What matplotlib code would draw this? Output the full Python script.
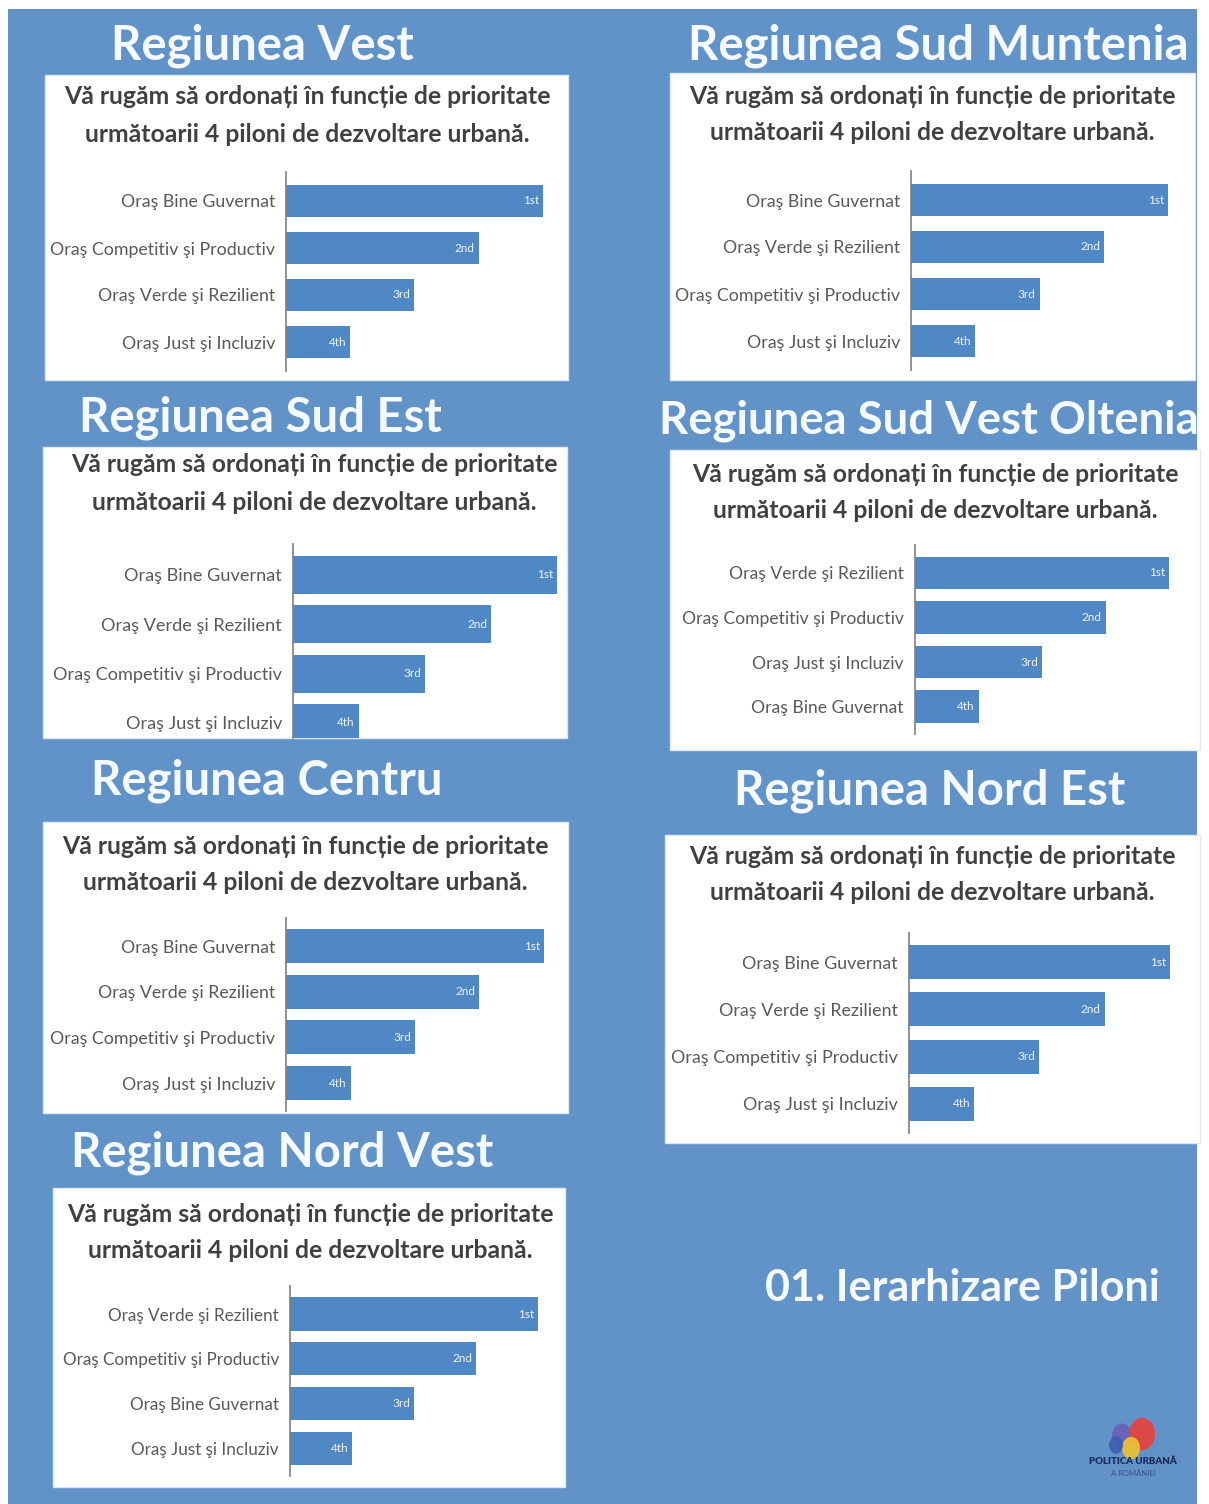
import matplotlib.pyplot as plt
from matplotlib.patches import Rectangle, Circle

plt.rcParams['font.family'] = ['Lato', 'DejaVu Sans']

W, H = 1209, 1504

# Date pe regiuni: ordinea pilonilor (de sus in jos) si scorul de prioritate
titles = ['Regiunea Vest', 'Regiunea Sud Muntenia', 'Regiunea Sud Est',
          'Regiunea Sud Vest Oltenia', 'Regiunea Centru', 'Regiunea Nord Est',
          'Regiunea Nord Vest']
order_vest = ['Oraş Bine Guvernat', 'Oraş Competitiv şi Productiv',
              'Oraş Verde şi Rezilient', 'Oraş Just şi Incluziv']
order_sud_muntenia = ['Oraş Bine Guvernat', 'Oraş Verde şi Rezilient',
                      'Oraş Competitiv şi Productiv', 'Oraş Just şi Incluziv']
order_sud_est = ['Oraş Bine Guvernat', 'Oraş Verde şi Rezilient',
                 'Oraş Competitiv şi Productiv', 'Oraş Just şi Incluziv']
order_oltenia = ['Oraş Verde şi Rezilient', 'Oraş Competitiv şi Productiv',
                 'Oraş Just şi Incluziv', 'Oraş Bine Guvernat']
order_centru = ['Oraş Bine Guvernat', 'Oraş Verde şi Rezilient',
                'Oraş Competitiv şi Productiv', 'Oraş Just şi Incluziv']
order_nord_est = ['Oraş Bine Guvernat', 'Oraş Verde şi Rezilient',
                  'Oraş Competitiv şi Productiv', 'Oraş Just şi Incluziv']
order_nord_vest = ['Oraş Verde şi Rezilient', 'Oraş Competitiv şi Productiv',
                   'Oraş Bine Guvernat', 'Oraş Just şi Incluziv']
orders = [order_vest, order_sud_muntenia, order_sud_est, order_oltenia,
          order_centru, order_nord_est, order_nord_vest]
scores = [4, 3, 2, 1]
ranks = ['1st', '2nd', '3rd', '4th']

question = ['Vă rugăm să ordonați în funcție de prioritate',
            'următoarii 4 piloni de dezvoltare urbană.']

# asezare panouri (pixeli): titlu x,y | cadru alb x0,y0,x1,y1 | subtitlu x,y1,y2 | axa x, prima bara y, pas, px pe unitate
layout = [
    dict(t=(262, 46), ts=34, box=(45, 75, 568, 380), sub=(307, 97, 134), ax=(286, 201, 47, 64.2), bh=0.68, fs=12.8),
    dict(t=(938, 46), ts=34, box=(670, 73, 1195, 380), sub=(932, 96, 132), ax=(911, 200, 47, 64.3), bh=0.68, fs=12.8),
    dict(t=(260, 418), ts=34, box=(43, 447, 567, 738), sub=(314, 464, 503), ax=(293, 575, 49.3, 66), bh=0.77, fs=13.1),
    dict(t=(929, 421), ts=32.8, box=(670, 450, 1200, 750), sub=(935, 475, 510), ax=(915, 573, 44.5, 63.5), bh=0.74, fs=12.6),
    dict(t=(267, 781), ts=34, box=(43, 822, 568, 1113), sub=(305, 846, 882), ax=(286, 946, 45.7, 64.5), bh=0.74, fs=12.8),
    dict(t=(930, 791), ts=34, box=(665, 835, 1200, 1143), sub=(932, 857, 893), ax=(909, 962, 47.3, 65.2), bh=0.72, fs=12.9),
    dict(t=(282, 1153), ts=34, box=(53, 1188, 565, 1487), sub=(310, 1215, 1250), ax=(290, 1314, 44.7, 62), bh=0.74, fs=12.3),
]

bg_blue = '#6193c9'
bar_blue = '#5088c5'


def fx(x):
    return x / W


def fy(y):
    return 1 - y / H


fig = plt.figure(figsize=(W / 100, H / 100), dpi=100)
fig.patch.set_facecolor('white')
fig.patches.append(Rectangle((fx(8), 0), fx(1197) - fx(8), fy(9), transform=fig.transFigure,
                             facecolor=bg_blue, edgecolor='none', zorder=0))

for title, order, lay in zip(titles, orders, layout):
    x0, y0, x1, y1 = lay['box']
    fig.patches.append(Rectangle((fx(x0), fy(y1)), fx(x1) - fx(x0), fy(y0) - fy(y1),
                                 transform=fig.transFigure, facecolor='white',
                                 edgecolor='#dfe8f2', lw=1, zorder=1))
    fig.text(fx(lay['t'][0]), fy(lay['t'][1]), title, ha='center', va='center',
             fontsize=lay['ts'], fontweight='bold', color='#f4faff', zorder=3)
    sx, sy1, sy2 = lay['sub']
    fig.text(fx(sx), fy(sy1), question[0], ha='center', va='center',
             fontsize=17.8, fontweight='bold', color='#404040', zorder=3)
    fig.text(fx(sx), fy(sy2), question[1], ha='center', va='center',
             fontsize=17.8, fontweight='bold', color='#404040', zorder=3)

    axx, yb, sp, unit = lay['ax']
    top = yb - 0.62 * sp
    bottom = min(yb + 3.62 * sp, y1)
    ax = fig.add_axes([fx(axx), fy(bottom), fx(axx + 4.05 * unit) - fx(axx), fy(top) - fy(bottom)])
    ax.set_zorder(2)
    ax.patch.set_alpha(0)
    pos = list(range(len(order)))
    ax.barh(pos, scores, height=lay['bh'], color=bar_blue, edgecolor='none')
    for p, s, r in zip(pos, scores, ranks):
        ax.text(s - 0.06, p, r, ha='right', va='center', fontsize=8.5, color='#eef4fb')
    ax.set_xlim(0, 4.05)
    ax.set_ylim((bottom - yb) / sp, -0.62)
    ax.set_yticks(pos)
    ax.set_yticklabels(order, fontsize=lay['fs'], color='#595959')
    ax.tick_params(axis='y', length=0, pad=8)
    ax.set_xticks([])
    for side in ['top', 'right', 'bottom']:
        ax.spines[side].set_visible(False)
    ax.spines['left'].set_color('#7f7f7f')
    ax.spines['left'].set_linewidth(1.2)

fig.text(fx(962), fy(1288), '01. Ierarhizare Piloni', ha='center', va='center',
         fontsize=31, fontweight='bold', color='#f4faff')

# sigla
logo = [((1122, 1436), 10, '#6a5fb3'), ((1142, 1434), 13, '#e8413a'),
        ((1131, 1448), 9, '#f2c230'), ((1116, 1445), 7, '#3c5fb0')]
for (cx, cy), r, c in logo:
    fig.patches.append(Circle((fx(cx), fy(cy)), r / W, transform=fig.transFigure,
                              facecolor=c, edgecolor='none', alpha=0.9, zorder=2))
fig.text(fx(1133), fy(1462), 'POLITICA URBANĂ', ha='center', va='center',
         fontsize=7, fontweight='heavy', color='#1c2a5a')
fig.text(fx(1133), fy(1473), 'A ROMÂNIEI', ha='center', va='center',
         fontsize=5.5, color='#3a4f8a')

fig.savefig('out.png', dpi=100)
